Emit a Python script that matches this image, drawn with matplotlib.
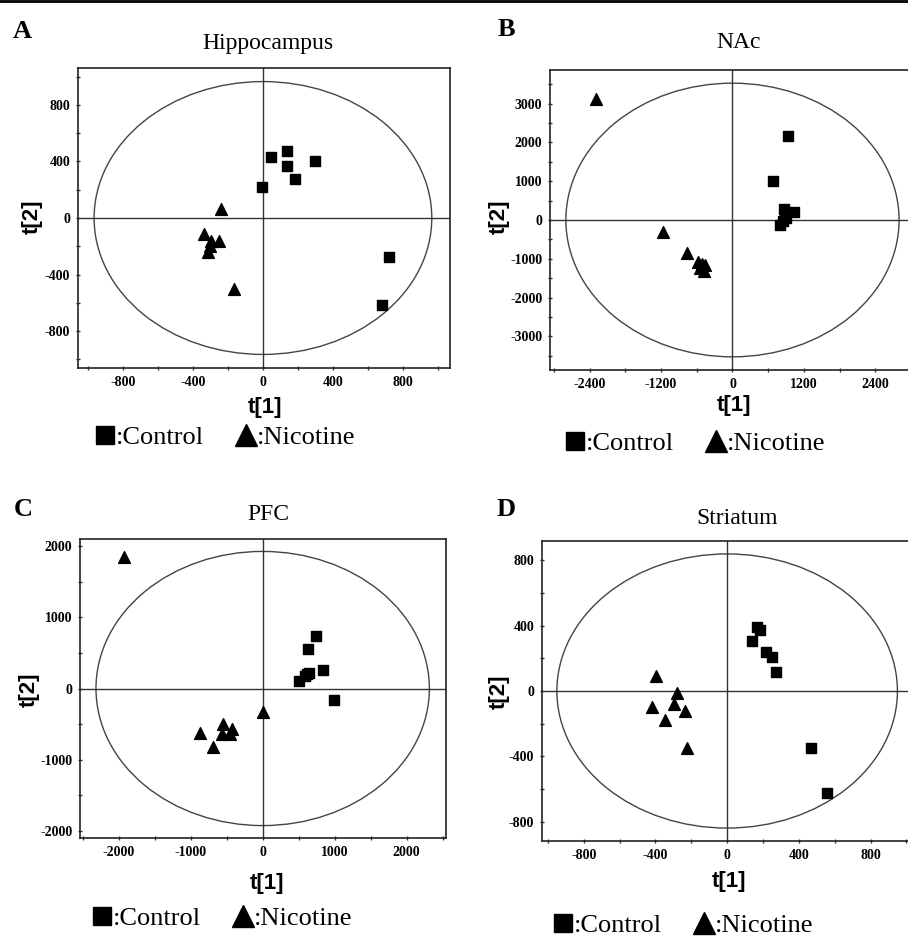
import numpy as np
import matplotlib.pyplot as plt
from matplotlib.patches import Ellipse
from matplotlib.lines import Line2D
from matplotlib.ticker import MultipleLocator

plt.rcParams['axes.unicode_minus'] = False

# Datos (scores PCA t[1], t[2])
regiones = ["Hippocampus", "NAc", "PFC", "Striatum"]
letras = ["A", "B", "C", "D"]

ctrl_x_A = [48, 137, 137, 295, 181, -4, 718, 680]
ctrl_y_A = [433, 475, 370, 400, 276, 218, -276, -618]
nic_x_A = [-240, -339, -295, -252, -305, -315, -166]
nic_y_A = [63, -110, -164, -164, -199, -238, -503]

ctrl_x_B = [925, 673, 858, 1026, 886, 847, 802, 900]
ctrl_y_B = [2175, 1015, 275, 215, 103, -17, -129, 50]
nic_x_B = [-2300, -1161, -757, -583, -516, -460, -544, -477]
nic_y_B = [3113, -301, -860, -1075, -1135, -1160, -1247, -1307]

ctrl_x_C = [741, 634, 833, 648, 588, 509, 986, 620]
ctrl_y_C = [742, 554, 263, 225, 178, 99, -160, 200]
nic_x_C = [-1931, 0, -556, -431, -569, -454, -870, -685]
nic_y_C = [1850, -324, -498, -573, -638, -638, -620, -817]

ctrl_x_D = [168, 183, 140, 219, 252, 271, 467, 557]
ctrl_y_D = [389, 373, 306, 240, 206, 114, -347, -622]
nic_x_D = [-398, -280, -299, -422, -234, -346, -224]
nic_y_D = [94, -14, -79, -98, -122, -177, -349]

# radios de la elipse de Hotelling (t1, t2)
elipse = [(965, 965), (2800, 3530), (2315, 1930), (950, 838)]
xlims = [(-1057, 1069), (-3067, 2950), (-2537, 2546), (-1033, 1009)]
ylims = [(-1061, 1061), (-3870, 3870), (-2105, 2105), (-917, 917)]
xmaj = [400, 1200, 1000, 400]
xmin = [200, 600, 500, 200]
ymaj = [400, 1000, 1000, 400]
ymin = [200, 500, 500, 200]

datos = [(ctrl_x_A, ctrl_y_A, nic_x_A, nic_y_A),
         (ctrl_x_B, ctrl_y_B, nic_x_B, nic_y_B),
         (ctrl_x_C, ctrl_y_C, nic_x_C, nic_y_C),
         (ctrl_x_D, ctrl_y_D, nic_x_D, nic_y_D)]

W, H = 908, 939
# cajas de ejes en pixeles: izquierda, arriba, derecha, abajo
cajas = [(78, 68, 450, 368), (550, 70, 908, 370),
         (80, 539, 446, 838), (542, 541, 908, 841)]
titulo_pos = [(268, 43), (739, 43), (268, 515), (737, 518)]
letra_pos = [(22, 31), (506, 30), (23, 510), (506, 510)]
t1_pos = [(265, 408), (734, 405), (267, 883), (729, 882)]
t2_pos = [(32, 217), (499, 217), (29, 690), (499, 692)]
leyenda_pos = [(225, 437), (695, 443), (222, 918), (683, 925)]

serif = "Liberation Serif"
sans = "Liberation Sans"

fig = plt.figure(figsize=(W / 100, H / 100), dpi=100)

for i in range(4):
    l, t, r, b = cajas[i]
    ax = fig.add_axes([l / W, 1 - b / H, (r - l) / W, (b - t) / H])
    cx, cy, nx, ny = datos[i]

    ax.add_patch(Ellipse((0, 0), 2 * elipse[i][0], 2 * elipse[i][1],
                         fill=False, edgecolor="#444444", lw=1.0))
    ax.axhline(0, color="#333333", lw=1.0)
    ax.axvline(0, color="#333333", lw=1.0)
    ax.scatter(cx, cy, marker="s", s=48, color="black", zorder=3)
    ax.scatter(nx, ny, marker="^", s=72, color="black", zorder=3)

    ax.set_xlim(xlims[i])
    ax.set_ylim(ylims[i])
    ax.xaxis.set_major_locator(MultipleLocator(xmaj[i]))
    ax.xaxis.set_minor_locator(MultipleLocator(xmin[i]))
    ax.yaxis.set_major_locator(MultipleLocator(ymaj[i]))
    ax.yaxis.set_minor_locator(MultipleLocator(ymin[i]))
    ax.tick_params(which="both", direction="inout", length=3, width=1,
                   color="#333333", pad=4)
    for lab in ax.get_xticklabels() + ax.get_yticklabels():
        lab.set_fontfamily(serif)
        lab.set_fontweight("bold")
        lab.set_fontsize(10)
    for s in ax.spines.values():
        s.set_color("#222222")
        s.set_linewidth(1.2)
    if i in (1, 3):
        ax.spines["right"].set_visible(False)

    fig.text(titulo_pos[i][0] / W, 1 - titulo_pos[i][1] / H, regiones[i],
             family=serif, fontsize=17, ha="center", va="center")
    fig.text(letra_pos[i][0] / W, 1 - letra_pos[i][1] / H, letras[i],
             family=serif, fontsize=19, fontweight="bold", ha="center", va="center")
    fig.text(t1_pos[i][0] / W, 1 - t1_pos[i][1] / H, "t[1]",
             family=sans, fontsize=16, fontweight="bold", ha="center", va="center")
    fig.text(t2_pos[i][0] / W, 1 - t2_pos[i][1] / H, "t[2]", rotation=90,
             family=sans, fontsize=16, fontweight="bold", ha="center", va="center")

    handles = [Line2D([], [], marker="s", ls="", color="black", ms=13),
               Line2D([], [], marker="^", ls="", color="black", ms=16)]
    fig.legend(handles, [":Control", ":Nicotine"], loc="center",
               bbox_to_anchor=(leyenda_pos[i][0] / W, 1 - leyenda_pos[i][1] / H),
               ncol=2, frameon=False, handlelength=0.8, handletextpad=0.0,
               columnspacing=1.2, prop={"family": serif, "size": 19})

# linea superior
fig.add_artist(Line2D([0, 1], [0.999, 0.999], transform=fig.transFigure,
                      color="black", lw=2))

plt.savefig("out.png", dpi=100)
